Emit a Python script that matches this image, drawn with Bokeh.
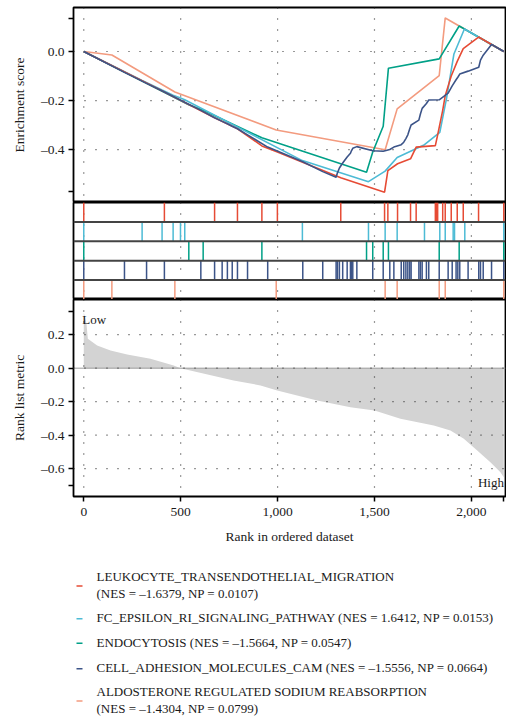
from bokeh.plotting import figure
from bokeh.layouts import column
from bokeh.models import Range1d, FixedTicker, Span
from bokeh.embed import file_html
from bokeh.resources import INLINE
from bokeh.core.properties import value

# ---------------- data ----------------
set_names = ["LEUKOCYTE_TRANSENDOTHELIAL_MIGRATION",
             "FC_EPSILON_RI_SIGNALING_PATHWAY",
             "ENDOCYTOSIS",
             "CELL_ADHESION_MOLECULES_CAM",
             "ALDOSTERONE REGULATED SODIUM REABSORPTION"]
set_nes = [-1.6379, 1.6412, -1.5664, -1.5556, -1.4304]
set_np = [0.0107, 0.0153, 0.0547, 0.0664, 0.0799]
set_wrap = [True, False, False, False, True]
set_colors = ["#E64B35", "#4DBBD5", "#00A087", "#3C5488", "#F39B7F"]

# running enrichment score curves (rank, ES)
es_rank_leuk = [0, 416, 675, 793, 919, 999, 1326, 1552, 1569, 1619, 1686, 1715, 1814,
                1826, 1852, 1865, 1896, 1927, 1958, 2037, 2167]
es_leuk = [0, -0.165, -0.27, -0.315, -0.385, -0.41, -0.515, -0.574, -0.486, -0.458, -0.438,
           -0.39, -0.384, -0.34, -0.24, -0.18, -0.10, -0.04, 0.012, 0.059, 0]
es_rank_fc = [0, 301, 404, 461, 499, 521, 1128, 1469, 1555, 1617, 1758, 1837, 1872, 1910,
              1964, 2167]
es_fc = [0, -0.118, -0.157, -0.178, -0.19, -0.197, -0.445, -0.531, -0.488, -0.432, -0.38,
         -0.33, -0.19, -0.01, 0.092, 0]
es_rank_endo = [0, 542, 616, 919, 1459, 1491, 1545, 1572, 1834, 1937, 2167]
es_endo = [0, -0.217, -0.24, -0.352, -0.493, -0.41, -0.305, -0.068, -0.03, 0.104, 0]
es_rank_cam = [0, 210, 324, 416, 604, 675, 714, 741, 766, 793, 845, 949, 1130, 1233, 1302,
               1309, 1319, 1336, 1359, 1376, 1381, 1388, 1409, 1491, 1545, 1579, 1600, 1638,
               1651, 1662, 1672, 1682, 1689, 1729, 1737, 1746, 1768, 1780, 1834, 1880, 1901,
               1921, 1930, 1940, 1983, 2038, 2047, 2061, 2104, 2167]
es_cam = [0, -0.085, -0.13, -0.165, -0.24, -0.27, -0.285, -0.295, -0.305, -0.315, -0.34,
          -0.39, -0.45, -0.49, -0.513, -0.495, -0.475, -0.455, -0.43, -0.415, -0.405, -0.395,
          -0.388, -0.405, -0.407, -0.40, -0.39, -0.38, -0.37, -0.355, -0.34, -0.315, -0.30,
          -0.28, -0.255, -0.232, -0.212, -0.198, -0.197, -0.17, -0.14, -0.115, -0.105, -0.092,
          -0.08, -0.064, -0.035, -0.015, 0.029, 0]
es_rank_aldo = [0, 145, 470, 993, 1555, 1617, 1834, 1865, 2167]
es_aldo = [0, -0.014, -0.165, -0.32, -0.401, -0.234, -0.098, 0.137, 0]

# hit positions (rank of member genes)
hits_leuk = [0, 416, 675, 793, 919, 999, 1326, 1552, 1569, 1619, 1686, 1715, 1814, 1820,
             1826, 1852, 1865, 1896, 1927, 1958, 2037, 2167]
hits_fc = [0, 301, 404, 461, 499, 521, 1128, 1469, 1555, 1617, 1758, 1837, 1865, 1906,
           1913, 1966, 2167]
hits_endo = [0, 542, 616, 919, 1459, 1491, 1545, 1572, 1834, 1937, 2167]
hits_cam = [0, 210, 324, 416, 604, 675, 714, 741, 766, 793, 845, 949, 1130, 1233, 1302,
            1309, 1319, 1336, 1359, 1376, 1381, 1388, 1409, 1491, 1545, 1579, 1600, 1638,
            1651, 1662, 1672, 1682, 1689, 1729, 1737, 1746, 1768, 1780, 1834, 1880, 1901,
            1921, 1930, 1940, 1983, 2038, 2047, 2061, 2104, 2167]
hits_aldo = [0, 145, 470, 993, 1555, 1617, 1834, 1865, 2167]

# ranked list metric
metric_rank = [0, 14, 21, 69, 138, 224, 344, 464, 499, 773, 912, 998, 1204, 1376, 1500,
               1634, 1806, 1892, 1961, 2030, 2098, 2150, 2167]
metric_value = [0.334, 0.265, 0.176, 0.135, 0.106, 0.082, 0.056, 0.016, 0.0, -0.073,
                -0.103, -0.133, -0.193, -0.233, -0.253, -0.302, -0.342, -0.372, -0.422,
                -0.491, -0.561, -0.621, -0.651]

x_ticks = [0, 500, 1000, 1500, 2000, 2167]
x_tick_labels = ["0", "500", "1,000", "1,500", "2,000", ""]
es_ticks = [0.135, 0.0, -0.2, -0.4, -0.571]
es_tick_labels = ["", "0.0", "\u20130.2", "\u20130.4", ""]
metric_ticks = [0.34, 0.2, 0.0, -0.2, -0.4, -0.6, -0.70]
metric_tick_labels = ["", "0.2", "0.0", "\u20130.2", "\u20130.4", "\u20130.6", ""]
grid_x = [0, 500, 1000, 1500, 2000]
grid_es = [0.0, -0.2, -0.4]
grid_metric = [0.2, 0.0, -0.2, -0.4, -0.6]

# ---------------- styling helpers ----------------
FONT = "Liberation Serif"
W = 506
BL = 73
BR = 1
XR = Range1d(-53, 2176)


def style_fig(p):
    p.outline_line_color = "black"
    p.outline_line_width = 1.8
    p.background_fill_color = "white"
    p.border_fill_color = "white"
    p.grid.visible = False


def style_axis(ax, ticks, labels):
    ax.ticker = FixedTicker(ticks=ticks)
    ax.major_label_overrides = {t: l for t, l in zip(ticks, labels)}
    ax.axis_line_color = None
    ax.major_tick_in = 0
    ax.major_tick_out = 5
    ax.major_tick_line_width = 1.5
    ax.major_tick_line_color = "black"
    ax.minor_tick_line_color = None
    ax.major_label_text_font = FONT
    ax.major_label_text_font_size = "13.5px"
    ax.major_label_text_color = "#1a1a1a"
    ax.major_label_standoff = 4
    ax.axis_label_text_font = FONT
    ax.axis_label_text_font_size = "13.5px"
    ax.axis_label_text_font_style = "normal"
    ax.axis_label_text_color = "#1a1a1a"


def add_grid(p, xs, ys, level):
    for gx in xs:
        p.add_layout(Span(location=gx, dimension="height", line_color="#333333",
                          line_width=1.2, line_dash="1 10", level=level))
    for gy in ys:
        p.add_layout(Span(location=gy, dimension="width", line_color="#333333",
                          line_width=1.2, line_dash="1 10", level=level))


# ---------------- top: enrichment score ----------------
top = figure(width=W, height=202, x_range=XR, y_range=Range1d(-0.616, 0.1796),
             output_backend="svg", toolbar_location=None, x_axis_location=None,
             min_border_left=BL, min_border_right=BR, min_border_top=7, min_border_bottom=0)
style_fig(top)
style_axis(top.yaxis[0], es_ticks, es_tick_labels)
top.yaxis.axis_label = "Enrichment score"
top.yaxis.axis_label_standoff = 11
add_grid(top, grid_x, grid_es, "underlay")

curves = [(es_rank_aldo, es_aldo, 4), (es_rank_endo, es_endo, 2), (es_rank_fc, es_fc, 1),
          (es_rank_leuk, es_leuk, 0), (es_rank_cam, es_cam, 3)]
for xs, ys, ci in curves:
    top.line(xs, ys, line_color=set_colors[ci], line_width=1.6)

# ---------------- middle: hits ----------------
mid = figure(width=W, height=97, x_range=XR, y_range=Range1d(0, 5),
             output_backend="svg", toolbar_location=None, x_axis_location=None,
             y_axis_location=None, min_border_left=BL, min_border_right=BR,
             min_border_top=0, min_border_bottom=0)
style_fig(mid)
add_grid(mid, grid_x, [], "underlay")
all_hits = [hits_leuk, hits_fc, hits_endo, hits_cam, hits_aldo]
for i, hits in enumerate(all_hits):
    y0 = 4 - i
    mid.segment(x0=hits, y0=[y0] * len(hits), x1=hits, y1=[y0 + 1] * len(hits),
                line_color=set_colors[i], line_width=1.5)
for k in range(1, 5):
    mid.add_layout(Span(location=k, dimension="width", line_color="#444444", line_width=2))

# ---------------- bottom: ranked list metric ----------------
bot = figure(width=W, height=252, x_range=XR, y_range=Range1d(-0.766, 0.410),
             output_backend="svg", toolbar_location=None,
             min_border_left=BL, min_border_right=BR, min_border_top=0, min_border_bottom=55)
style_fig(bot)
style_axis(bot.yaxis[0], metric_ticks, metric_tick_labels)
style_axis(bot.xaxis[0], x_ticks, x_tick_labels)
bot.xaxis.major_label_standoff = 6
bot.yaxis.axis_label = "Rank list metric"
bot.yaxis.axis_label_standoff = 11
bot.xaxis.axis_label = "Rank in ordered dataset"
bot.xaxis.axis_label_standoff = 10
bot.varea(x=metric_rank, y1=0, y2=metric_value, fill_color="#d3d3d3")
bot.add_layout(Span(location=0, dimension="width", line_color="#9a9a9a", line_width=1,
                    level="glyph"))
add_grid(bot, grid_x, grid_metric, "overlay")
bot.text(x=[-8], y=[0.335], text=["Low"], text_baseline="top", text_align="left",
         text_font=value(FONT), text_font_size=value("13px"), text_color="#1a1a1a")
bot.text(x=[2168], y=[-0.64], text=["High"], text_baseline="top", text_align="right",
         text_font=value(FONT), text_font_size=value("13px"), text_color="#1a1a1a")

# ---------------- legend (coordinates = page pixels) ----------------
LEG_TOP = 551
LH = 165
leg = figure(width=W, height=LH, x_range=Range1d(BL, W - BR),
             y_range=Range1d(LEG_TOP + LH, LEG_TOP),
             output_backend="svg", toolbar_location=None, x_axis_location=None,
             y_axis_location=None, min_border_left=BL, min_border_right=BR,
             min_border_top=0, min_border_bottom=0)
leg.outline_line_color = None
leg.grid.visible = False
legend_row_y = [584.5, 617.3, 641.7, 667.3, 699.5]
line_gap = 17.0
marker_x0, marker_x1, text_x = 76, 82, 96


def fmt(v):
    return f"{v:.4f}".replace("-", "\u2013")


tx, ty, tt = [], [], []
for i in range(len(set_names)):
    stats = f"(NES = {fmt(set_nes[i])}, NP = {set_np[i]:.4f})"
    yc = legend_row_y[i]
    if set_wrap[i]:
        tx += [text_x, text_x]
        ty += [yc - line_gap / 2, yc + line_gap / 2]
        tt += [set_names[i], stats]
    else:
        tx.append(text_x)
        ty.append(yc)
        tt.append(f"{set_names[i]} {stats}")
    leg.segment(x0=[marker_x0], y0=[yc + 1], x1=[marker_x1], y1=[yc + 1],
                line_color=set_colors[i], line_width=1.5)
leg.text(x=tx, y=ty, text=tt, text_baseline="middle", text_align="left",
         text_font=value(FONT), text_font_size=value("13px"), text_color="#1a1a1a")

layout = column(top, mid, bot, leg, spacing=0)
open("out.html", "w").write(file_html(layout, INLINE))
